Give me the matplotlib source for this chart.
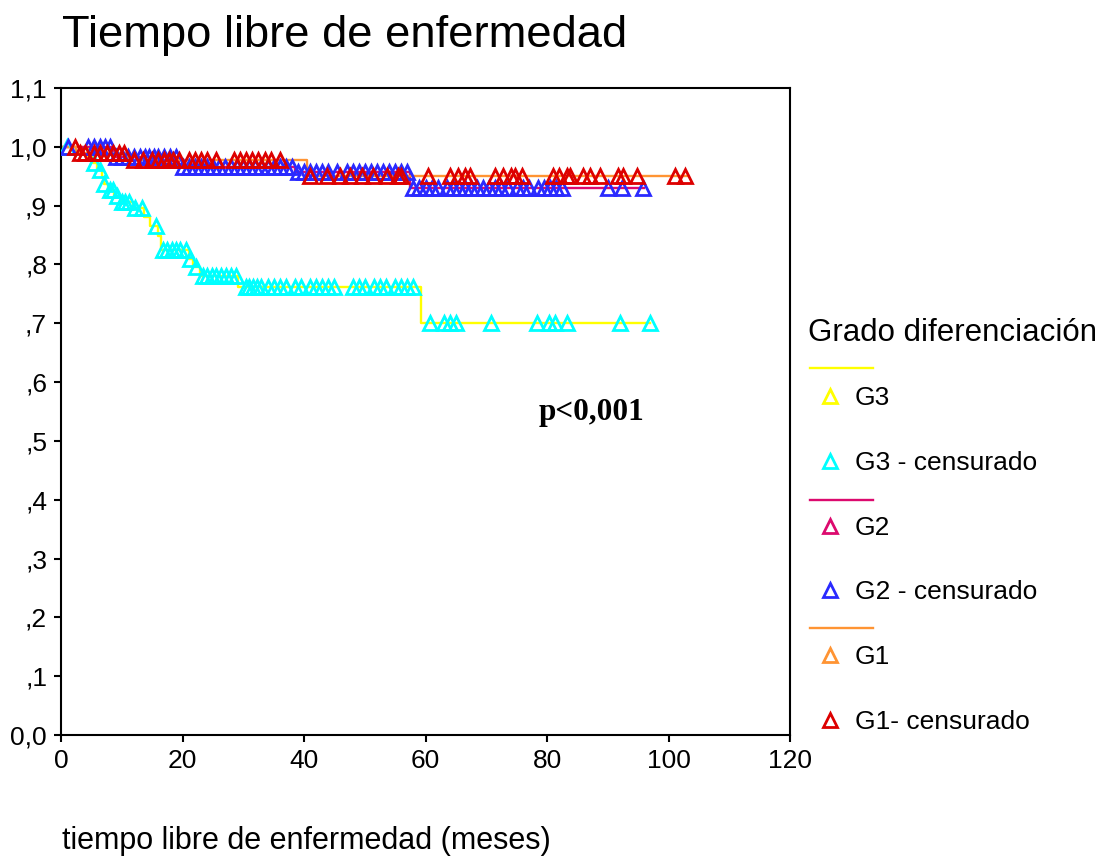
import numpy as np
import matplotlib.pyplot as plt
from matplotlib.lines import Line2D

plt.rcParams['font.family'] = ['Liberation Sans', 'DejaVu Sans']

# G3: event times / survival after the event, then censored times
g3_event_t = [4.5, 5.2, 6.0, 6.8, 7.0, 7.8, 8.8, 9.8, 11.8, 13.6, 14.6, 16.0, 16.5,
              21.0, 21.8, 22.8, 29.1, 59.2]
g3_surv = [0.985, 0.973, 0.961, 0.948, 0.937, 0.927, 0.917, 0.906, 0.896, 0.88, 0.866,
           0.848, 0.825, 0.81, 0.796, 0.78, 0.762, 0.70]
g3_end = 97
g3_cens_t = [1, 5.4, 6.4, 7.1, 8, 8.6, 9.2, 10, 10.6, 11.2, 12.2, 13.3, 15.7, 16.8, 17.5,
             18.2, 19, 19.6, 20.5, 21.3, 22.2, 23.3, 24, 24.8, 25.5, 26.3, 27.2, 28, 28.8,
             30.4, 31, 31.6, 32.3, 33, 34, 35, 36, 37, 38.5, 39.5, 41, 42, 43, 44, 45,
             48, 49, 50, 51.5, 52.5, 53.5, 55, 56, 57, 58, 60.8, 63, 64, 65, 70.7, 78.4,
             80.4, 81.3, 83.3, 92, 97]

# G2
g2_event_t = [8.5, 19.5, 38.5, 57.5]
g2_surv = [0.982, 0.966, 0.958, 0.93]
g2_end = 96
g2_cens_t = [1.2, 4.5, 5.5, 6.5, 7.3, 8, 9, 10, 11, 12, 13, 13.8, 14.5, 15.3, 16, 17, 18,
             19, 20, 21, 22, 23, 24, 25, 26, 27, 28, 29, 30, 31, 32, 33, 34, 35, 36, 37,
             38, 39, 40, 41, 42, 43, 44, 45.5, 47, 48, 49, 50, 51, 52, 53, 54, 55, 56, 57,
             58, 59, 60, 61, 62, 63.5, 64.5, 65.5, 66.5, 67.5, 68.5, 69.5, 70.5, 71.5,
             72.5, 73.5, 75, 76, 77, 78.5, 79.5, 80.5, 81.5, 82.5, 90, 92.3, 95.8]

# G1
g1_event_t = [2.5, 11, 40.5]
g1_surv = [0.99, 0.978, 0.951]
g1_end = 103
g1_cens_t = [2.3, 3.2, 4, 5.5, 6.5, 7.5, 8.5, 9.5, 10.3, 12, 13.5, 15, 16, 17, 17.8, 18.5,
             19.5, 21, 22, 23, 24, 25.5, 28.5, 29.5, 30.5, 31.5, 32.5, 33.5, 34.5, 36,
             41, 43.8, 46, 47.6, 49.5, 51.4, 53.7, 55.5, 56, 60.4, 64, 65.4, 66.5, 67.3,
             71.4, 72.8, 74, 74.7, 75.9, 81, 82, 83.3, 83.8, 86, 87, 88.7, 91.7, 92.5,
             94.8, 101, 102.7]

groups = [
    (g3_event_t, g3_surv, g3_end, g3_cens_t, '#FFFF00', '#00FFFF'),
    (g2_event_t, g2_surv, g2_end, g2_cens_t, '#DC0A6E', '#2A2AFF'),
    (g1_event_t, g1_surv, g1_end, g1_cens_t, '#FF9433', '#DD0000'),
]


def surv_at(ev_t, surv, t):
    idx = np.searchsorted(ev_t, t, side='right')
    vals = np.concatenate([[1.0], surv])
    return vals[idx]


fig = plt.figure(figsize=(11.09, 8.57), dpi=100)
ax = fig.add_axes([61/1109, 1-735/857, (790-61)/1109, (735-88)/857])

for ev_t, surv, end, cens_t, lc, mc in groups:
    xs = [0] + ev_t + [end]
    ys = [1.0] + surv + [surv[-1]]
    ax.step(xs, ys, where='post', color=lc, lw=1.7, zorder=2)
    cy = surv_at(np.array(ev_t), np.array(surv), np.array(cens_t))
    ax.plot(cens_t, cy, ls='none', marker='^', ms=10, mfc='none', mec=mc, mew=2.0, zorder=3)

ax.set_xlim(0, 120)
ax.set_ylim(0, 1.1)
ax.set_xticks(range(0, 121, 20))
ax.set_yticks(np.arange(0, 1.11, 0.1))
ax.set_yticklabels(['0,0', ',1', ',2', ',3', ',4', ',5', ',6', ',7', ',8', ',9', '1,0', '1,1'])
ax.tick_params(axis='both', labelsize=19, length=5, width=1.5, direction='out', pad=5)
for s in ax.spines.values():
    s.set_linewidth(1.5)

ax.text(87.4, 0.549, 'p<0,001', family=['Liberation Serif', 'DejaVu Serif'],
        fontweight='bold', fontsize=22.5, ha='center', va='center')

fig.text(62/1109, 1-35/857, 'Tiempo libre de enfermedad', fontsize=32.7, ha='left', va='center')
fig.text(62/1109, 1-841/857, 'tiempo libre de enfermedad (meses)', fontsize=22,
         ha='left', va='center')

# legend drawn by hand, SPSS style
W, H = 1109, 857
fig.text(808/W, 1-333/H, 'Grado diferenciación', fontsize=22.5, ha='left', va='center')
leg = [
    (368, 396, 'G3', '#FFFF00', '#FFFF00'),
    (None, 461, 'G3 - censurado', None, '#00FFFF'),
    (500, 526, 'G2', '#DC0A6E', '#DC0A6E'),
    (None, 590, 'G2 - censurado', None, '#2A2AFF'),
    (628, 655, 'G1', '#FF9433', '#FF9433'),
    (None, 720, 'G1- censurado', None, '#DD0000'),
]
for ly, my, lab, lc, mc in leg:
    if ly is not None:
        fig.add_artist(Line2D([810/W, 873/W], [1-ly/H, 1-ly/H], color=lc, lw=1.7))
    fig.add_artist(Line2D([830/W], [1-my/H], marker='^', ms=10, mfc='none', mec=mc, mew=2.0))
    fig.text(855/W, 1-(my+2)/H, lab, fontsize=19, ha='left', va='center')

fig.savefig('out.png', dpi=100)
